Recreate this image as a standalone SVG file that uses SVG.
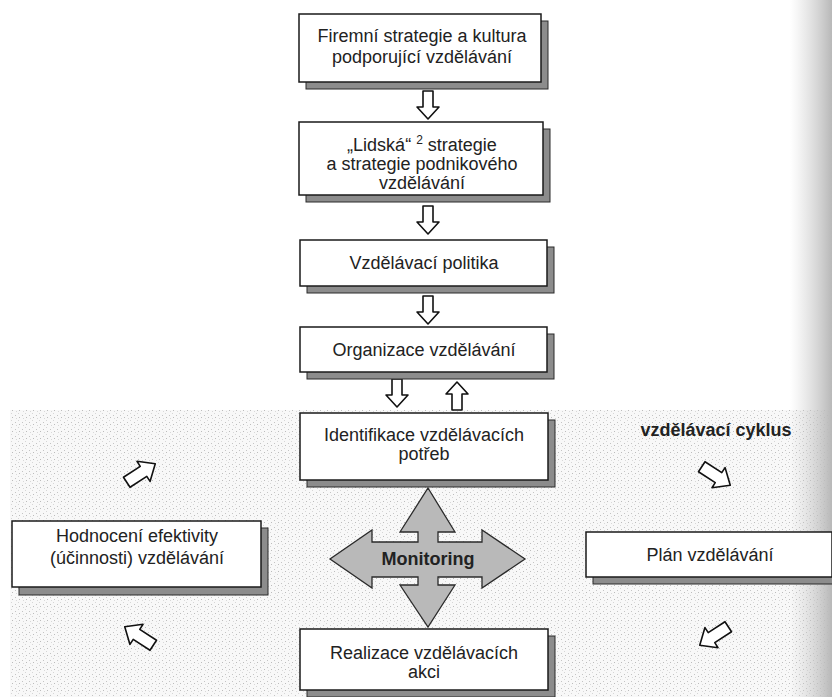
<svg xmlns="http://www.w3.org/2000/svg" width="832" height="697" viewBox="0 0 832 697">
<defs>
<style>
.box{fill:#ffffff;stroke:#1a1a1a;stroke-width:1.5}
.sh{fill:#8c8c8c;stroke:#2a2a2a;stroke-width:1}
.t{font-family:"Liberation Sans",Arial,sans-serif;font-size:18px;fill:#222;text-anchor:middle}
.b{font-weight:bold}
.arr{fill:#fff;stroke:#111;stroke-width:1.6;stroke-linejoin:round}
</style>
<pattern id="speck" width="7" height="7" patternUnits="userSpaceOnUse">
<rect width="7" height="7" fill="#f8f8f8"/>
<rect x="1" y="2" width="1" height="1" fill="#c4c4c4"/>
<rect x="4" y="0" width="1" height="1" fill="#d6d6d6"/>
<rect x="5" y="4" width="1" height="1" fill="#bcbcbc"/>
<rect x="2" y="5" width="1" height="1" fill="#d8d8d8"/>
</pattern>
<linearGradient id="edge" x1="0" y1="0" x2="1" y2="0">
<stop offset="0" stop-color="#cfcfcf" stop-opacity="0"/>
<stop offset="1" stop-color="#b8b8b8" stop-opacity="1"/>
</linearGradient>
<path id="ar" d="M-14,-5 L2,-5 L2,-11 L14,0 L2,11 L2,5 L-14,5 Z"/>
<path id="ar2" d="M-17,-6 L3,-6 L3,-12 L17,0 L3,12 L3,6 L-17,6 Z"/>
</defs>

<rect width="832" height="697" fill="#ffffff"/>
<rect x="10" y="410" width="822" height="287" fill="url(#speck)"/>
<rect x="790" y="0" width="42" height="697" fill="url(#edge)"/>

<g id="connectors">
<use href="#ar" class="arr" transform="translate(428,105) rotate(90)"/>
<use href="#ar" class="arr" transform="translate(428,220) rotate(90)"/>
<use href="#ar" class="arr" transform="translate(428,310) rotate(90)"/>
<use href="#ar" class="arr" transform="translate(397,393) rotate(90)"/>
<use href="#ar" class="arr" transform="translate(457,396) rotate(-90)"/>
<use href="#ar2" class="arr" transform="translate(141,473) rotate(-33)"/>
<use href="#ar2" class="arr" transform="translate(139,636) rotate(-147)"/>
<use href="#ar2" class="arr" transform="translate(716,476) rotate(33)"/>
<use href="#ar2" class="arr" transform="translate(714,636) rotate(147)"/>
</g>

<g id="n1">
<rect class="sh" x="306" y="21" width="242" height="68"/>
<rect class="box" x="299" y="14" width="242" height="68"/>
<text class="t" x="422" y="42">Firemní strategie a kultura</text>
<text class="t" x="422" y="63">podporující vzdělávání</text>
</g>

<g id="n2">
<rect class="sh" x="306" y="129" width="244" height="73"/>
<rect class="box" x="299" y="122" width="244" height="73"/>
<text class="t" x="422" y="151">„Lidská“ <tspan font-size="12" dy="-7">2</tspan><tspan dy="7"> strategie</tspan></text>
<text class="t" x="422" y="170">a strategie podnikového</text>
<text class="t" x="422" y="189">vzdělávání</text>
</g>

<g id="n3">
<rect class="sh" x="307" y="247" width="247" height="46"/>
<rect class="box" x="300" y="240" width="247" height="46"/>
<text class="t" x="424" y="269">Vzdělávací politika</text>
</g>

<g id="n4">
<rect class="sh" x="307" y="334" width="247" height="45"/>
<rect class="box" x="300" y="327" width="247" height="45"/>
<text class="t" x="424" y="356">Organizace vzdělávání</text>
</g>

<g id="n5">
<rect class="sh" x="307" y="420" width="248" height="67"/>
<rect class="box" x="300" y="413" width="248" height="67"/>
<text class="t" x="424" y="441">Identifikace vzdělávacích</text>
<text class="t" x="424" y="460">potřeb</text>
</g>

<g id="n6">
<rect class="sh" x="307" y="636" width="248" height="61"/>
<rect class="box" x="300" y="629" width="248" height="61"/>
<text class="t" x="424" y="659">Realizace vzdělávacích</text>
<text class="t" x="424" y="678">akci</text>
</g>

<g id="n7">
<rect class="sh" x="19" y="528" width="249" height="67"/>
<rect class="box" x="12" y="521" width="249" height="66"/>
<text class="t" x="137" y="542">Hodnocení efektivity</text>
<text class="t" x="137" y="564">(účinnosti) vzdělávání</text>
</g>

<g id="n8">
<rect class="sh" x="593" y="539" width="244" height="45"/>
<rect class="box" x="586" y="532" width="246" height="45"/>
<text class="t" x="710" y="561">Plán vzdělávání</text>
</g>

<g id="monitoring">
<path d="M428,488 L455,532 L438,532 L438,542 L482,542 L482,530 L525,559 L482,588 L482,577 L438,577 L438,585 L455,585 L428,627 L400,585 L418,585 L418,577 L372,577 L372,588 L330,559 L372,530 L372,542 L418,542 L418,532 L400,532 Z" fill="#b9b9b9" stroke="#2a2a2a" stroke-width="1.3" stroke-linejoin="miter"/>
<text class="t b" x="428" y="565">Monitoring</text>
</g>

<g id="label">
<text class="t b" x="716" y="436">vzdělávací cyklus</text>
</g>
</svg>
